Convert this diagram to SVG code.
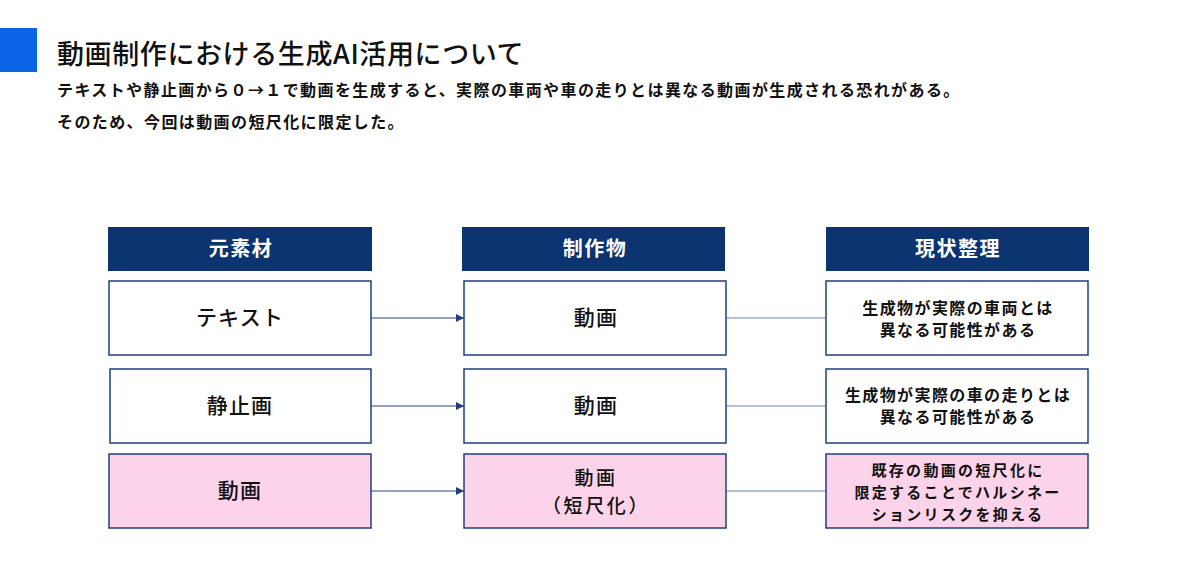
<svg xmlns="http://www.w3.org/2000/svg" width="1200" height="580" viewBox="0 0 1200 580">
<defs>
<style>
text{font-family:"Noto Sans CJK JP","Noto Sans",sans-serif;fill:#111;}
.title{font-size:27px;font-weight:500;letter-spacing:0.6px;}
.lead{font-size:16px;font-weight:700;letter-spacing:1.4px;}
.hdr rect{fill:#0b3470;}
.hdr text{fill:#fff;font-size:20px;font-weight:700;text-anchor:middle;letter-spacing:1.5px;}
.box rect{fill:#fff;stroke:#1f3f7a;stroke-width:1.5;}
.box.pink rect{fill:#fdd3ea;}
.big{font-size:21px;font-weight:500;text-anchor:middle;letter-spacing:1.2px;}
.big2{font-size:19px;font-weight:500;text-anchor:middle;letter-spacing:2.6px;}
.small{font-size:16px;font-weight:700;text-anchor:middle;letter-spacing:1.4px;}
.small2{font-size:15px;font-weight:700;text-anchor:middle;letter-spacing:2.3px;}
.arrow{stroke:#2c4a86;stroke-width:1.2;fill:none;marker-end:url(#ah);}
.plain{stroke:#6a87b8;stroke-width:1.2;fill:none;}
</style>
<marker id="ah" viewBox="0 0 10 10" refX="10" refY="5" markerWidth="8" markerHeight="8" markerUnits="userSpaceOnUse" orient="auto">
<path d="M0,0 L10,5 L0,10 z" fill="#1f3f7a"/>
</marker>
</defs>
<rect x="0" y="28" width="37" height="44" fill="#0b63e5"/>
<text class="title" x="57" y="64">動画制作における生成AI活用について</text>
<text class="lead" x="57" y="96">テキストや静止画から０→１で動画を生成すると、実際の車両や車の走りとは異なる動画が生成される恐れがある。</text>
<text class="lead" x="57" y="128">そのため、今回は動画の短尺化に限定した。</text>

<g id="hdr1" class="hdr"><rect x="108" y="227" width="264" height="44"/><text x="241" y="256">元素材</text></g>
<g id="hdr2" class="hdr"><rect x="462" y="227" width="263" height="44"/><text x="595" y="256">制作物</text></g>
<g id="hdr3" class="hdr"><rect x="826" y="227" width="263" height="44"/><text x="958" y="256">現状整理</text></g>

<g id="connectors">
<line class="arrow" x1="371" y1="318" x2="464" y2="318"/>
<line class="arrow" x1="371" y1="406" x2="464" y2="406"/>
<line class="arrow" x1="371" y1="491" x2="464" y2="491"/>
<line class="plain" x1="726" y1="318" x2="826" y2="318"/>
<line class="plain" x1="726" y1="406" x2="826" y2="406"/>
<line class="plain" x1="726" y1="491" x2="826" y2="491"/>
</g>

<g id="src-text" class="box"><rect x="109" y="281" width="262" height="74"/><text class="big" x="240" y="325">テキスト</text></g>
<g id="src-image" class="box"><rect x="110" y="369" width="261" height="74"/><text class="big" x="240" y="413">静止画</text></g>
<g id="src-video" class="box pink"><rect x="109" y="454" width="262" height="74"/><text class="big" x="240" y="498">動画</text></g>

<g id="out1" class="box"><rect x="464" y="281" width="262" height="74"/><text class="big" x="596" y="325">動画</text></g>
<g id="out2" class="box"><rect x="464" y="369" width="262" height="74"/><text class="big" x="596" y="413">動画</text></g>
<g id="out3" class="box pink"><rect x="464" y="454" width="262" height="74"/><text class="big2" x="596" y="485">動画</text><text class="big2" x="596" y="513">（短尺化）</text></g>

<g id="note1" class="box"><rect x="826" y="281" width="262" height="74"/><text class="small" x="958" y="314">生成物が実際の車両とは</text><text class="small" x="958" y="336">異なる可能性がある</text></g>
<g id="note2" class="box"><rect x="826" y="369" width="262" height="74"/><text class="small" x="958" y="401">生成物が実際の車の走りとは</text><text class="small" x="958" y="423">異なる可能性がある</text></g>
<g id="note3" class="box pink"><rect x="826" y="454" width="262" height="74"/><text class="small2" x="958" y="476">既存の動画の短尺化に</text><text class="small2" x="958" y="498">限定することでハルシネー</text><text class="small2" x="958" y="520">ションリスクを抑える</text></g>
</svg>
